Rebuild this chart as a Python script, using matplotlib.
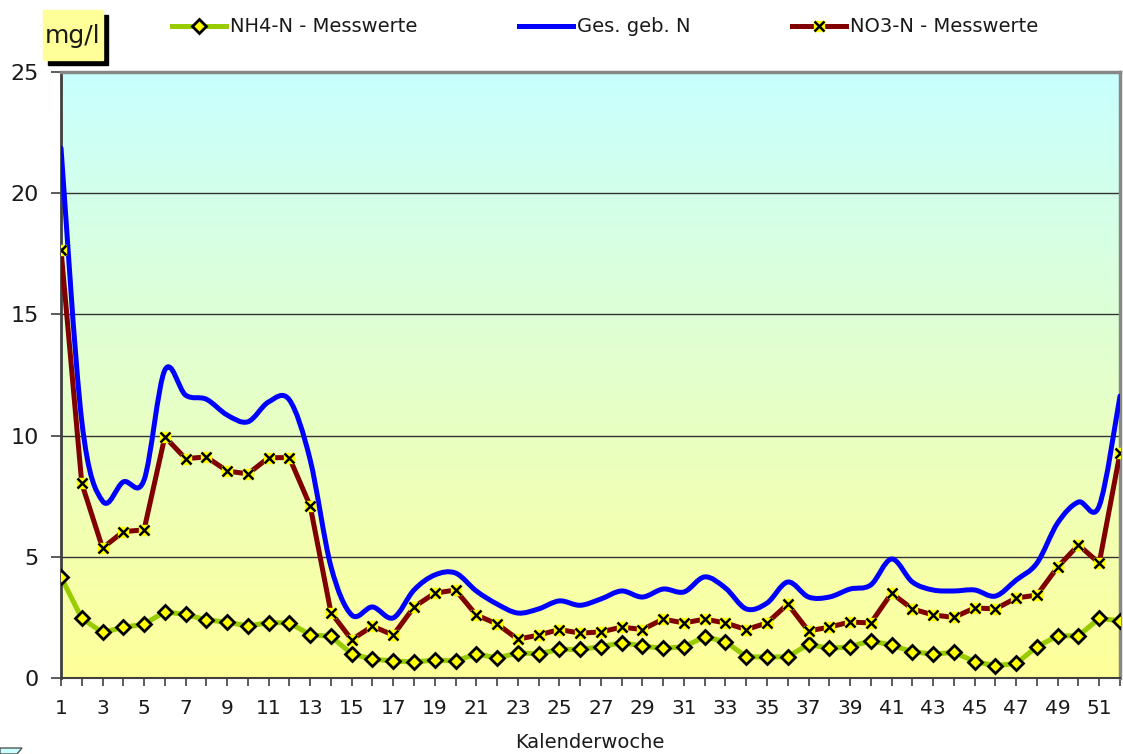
import numpy as np
import matplotlib
matplotlib.use("Agg")
import matplotlib.pyplot as plt
from matplotlib.path import Path
from matplotlib.patches import PathPatch, Rectangle, Polygon
from matplotlib.lines import Line2D
from matplotlib.legend_handler import HandlerTuple
from matplotlib.colors import LinearSegmentedColormap

weeks = np.arange(1, 53)

nh4 = [4.17, 2.46, 1.88, 2.09, 2.22, 2.73, 2.62, 2.40, 2.30, 2.15,
       2.28, 2.28, 1.78, 1.72, 0.99, 0.78, 0.70, 0.66, 0.74, 0.70,
       0.99, 0.83, 1.03, 1.00, 1.18, 1.18, 1.29, 1.46, 1.32, 1.22,
       1.29, 1.70, 1.50, 0.88, 0.86, 0.88, 1.39, 1.22, 1.29, 1.54,
       1.35, 1.09, 0.98, 1.06, 0.68, 0.51, 0.60, 1.29, 1.74, 1.74,
       2.46, 2.36]

no3 = [17.66, 8.03, 5.36, 6.04, 6.11, 9.95, 9.05, 9.12, 8.54, 8.42,
       9.09, 9.09, 7.10, 2.70, 1.58, 2.14, 1.77, 2.93, 3.50, 3.63,
       2.60, 2.23, 1.60, 1.77, 2.00, 1.85, 1.90, 2.10, 2.00, 2.43,
       2.27, 2.43, 2.27, 2.00, 2.27, 3.05, 1.94, 2.10, 2.31, 2.27,
       3.50, 2.85, 2.60, 2.50, 2.89, 2.85, 3.30, 3.42, 4.58, 5.49,
       4.74, 9.28]

ges_n = [21.86, 10.6, 7.3, 8.09, 8.17, 12.7, 11.67, 11.5, 10.85, 10.57,
         11.39, 11.47, 9.0, 4.6, 2.6, 2.93, 2.48, 3.63, 4.25, 4.33,
         3.59, 3.05, 2.68, 2.85, 3.18, 3.00, 3.26, 3.59, 3.34, 3.67,
         3.55, 4.17, 3.71, 2.85, 3.09, 3.96, 3.34, 3.34, 3.67, 3.84,
         4.91, 3.96, 3.63, 3.59, 3.63, 3.38, 4.04, 4.74, 6.40, 7.26,
         7.10, 11.63]


def smooth_path(x, y):
    # excel-like smoothed line as cubic bezier segments
    n = len(x)
    verts = [(x[0], y[0])]
    codes = [Path.MOVETO]
    for i in range(n - 1):
        xa, ya = (x[i - 1], y[i - 1]) if i > 0 else (x[i], y[i])
        xb, yb = (x[i + 2], y[i + 2]) if i + 2 < n else (x[i + 1], y[i + 1])
        c1 = (x[i] + (x[i + 1] - xa) / 6, y[i] + (y[i + 1] - ya) / 6)
        c2 = (x[i + 1] - (xb - x[i]) / 6, y[i + 1] - (yb - y[i]) / 6)
        verts += [c1, c2, (x[i + 1], y[i + 1])]
        codes += [Path.CURVE4] * 3
    return Path(verts, codes)


W, H = 1123, 754
fig = plt.figure(figsize=(W / 100, H / 100), dpi=100)
ax = fig.add_axes([61 / W, 1 - 678 / H, (1120 - 61) / W, (678 - 72) / H])

# background gradient
cmap = LinearSegmentedColormap.from_list("bg", ["#FFFF99", "#C8FFFF"])
ax.imshow(np.linspace(0, 1, 256).reshape(-1, 1), extent=[1, 52, 0, 25],
          aspect="auto", cmap=cmap, origin="lower", zorder=0)

for v in [5, 10, 15, 20]:
    ax.axhline(v, color="#333333", lw=1, zorder=1)

green = "#99CC00"
red = "#800000"
blue = "#0000FF"

ax.plot(weeks, nh4, color=green, lw=3.6, marker="D", ms=7.5, mfc="#FFFF00",
        mec="black", mew=2, zorder=3)
ax.add_patch(PathPatch(smooth_path(weeks, ges_n), fill=False, edgecolor=blue,
                       lw=3.6, capstyle="round", joinstyle="round", zorder=4))
ax.plot(weeks, no3, color=red, lw=3.6, zorder=5)
ax.plot(weeks, no3, ls="none", marker="s", ms=7, mfc="#FFFF00", mec="#FFFF00", zorder=6)
ax.plot(weeks, no3, ls="none", marker="x", ms=6.5, mec="black", mew=1.8, zorder=7)

ax.set_xlim(1, 52)
ax.set_ylim(0, 25)
ax.set_xticks(weeks)
ax.set_xticklabels([str(w) if w % 2 == 1 else "" for w in weeks])
ax.set_yticks([0, 5, 10, 15, 20, 25])
ax.tick_params(axis="x", direction="out", length=6, width=1.2, color="#404040",
               labelsize=14.5, pad=9, labelcolor="#1a1a1a")
ax.tick_params(axis="y", direction="out", length=7, width=1.2, color="#404040",
               labelsize=16, pad=9, labelcolor="#1a1a1a")

for s in ["top", "right"]:
    ax.spines[s].set_color("#888888")
    ax.spines[s].set_linewidth(2.5)
ax.spines["left"].set_color("#404040")
ax.spines["left"].set_linewidth(2)
ax.spines["bottom"].set_color("#404040")
ax.spines["bottom"].set_linewidth(1.5)

fig.text(590 / W, 1 - 742 / H, "Kalenderwoche", ha="center", va="center",
         fontsize=14, color="#1a1a1a")

# mg/l box with shadow
fig.patches.append(Rectangle((48 / W, 1 - 65 / H), 60 / W, 50 / H,
                             transform=fig.transFigure, color="black", zorder=0))
fig.patches.append(Rectangle((43 / W, 1 - 60 / H), 60 / W, 50 / H,
                             transform=fig.transFigure, color="#FFFF99", zorder=1))
fig.text(73 / W, 1 - 36 / H, "mg/l", ha="center", va="center", fontsize=18,
         color="#1a1a1a")

# little stray shape bottom left
fig.patches.append(Polygon([(0, 6 / H), (22 / W, 6 / H), (17 / W, 0), (0, 0)],
                           closed=True, transform=fig.transFigure,
                           facecolor="#C8FFFF", edgecolor="#555555", lw=1))

h_nh4 = Line2D([], [], color=green, lw=3.6, marker="D", ms=7, mfc="#FFFF00", mec="black", mew=2)
h_ges = Line2D([], [], color=blue, lw=3.6)
h_no3 = (Line2D([], [], color=red, lw=3.6, marker="s", ms=7, mfc="#FFFF00", mec="#FFFF00"),
         Line2D([], [], ls="none", marker="x", ms=6.5, mec="black", mew=1.8))
labels = ["NH4-N - Messwerte", "Ges. geb. N", "NO3-N - Messwerte"]
fig.legend([h_nh4, h_ges, h_no3], labels, loc="center left",
           bbox_to_anchor=(172 / W, 1 - 27 / H), ncol=3, frameon=False, fontsize=14,
           handlelength=2.8, handletextpad=0.2, columnspacing=5.2, borderpad=0,
           borderaxespad=0, labelcolor="#1a1a1a",
           handler_map={tuple: HandlerTuple(ndivide=1)})

fig.savefig("out.png", dpi=100)
